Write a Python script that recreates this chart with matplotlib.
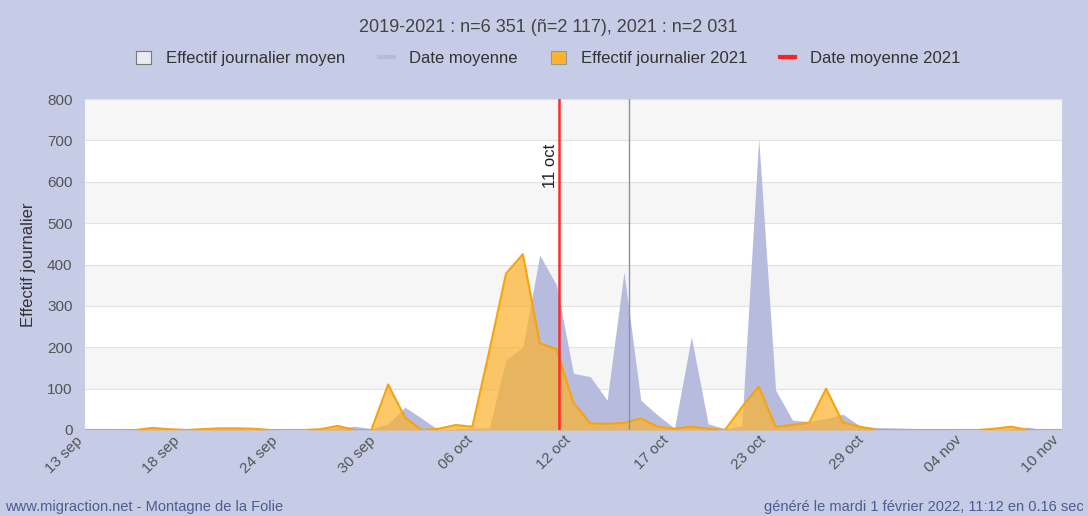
import numpy as np
import matplotlib
matplotlib.use("Agg")
import matplotlib.pyplot as plt
import matplotlib.transforms as mtransforms
from matplotlib.patches import Patch
from matplotlib.lines import Line2D

plt.rcParams['font.family'] = ['Liberation Sans', 'DejaVu Sans']

# jours depuis le 13 sep (0 .. 58 = 10 nov)
jours = np.arange(59)

effectif_moyen = [0, 0, 0, 2, 3, 3, 2, 2, 3, 3,
                  2, 2, 0, 0, 2, 5, 9, 3, 15, 55,
                  28, 0, 3, 5, 5, 170, 200, 423, 350, 137,
                  129, 72, 382, 72, 36, 4, 225, 15, 3, 10,
                  705, 97, 24, 20, 28, 38, 10, 6, 5, 4,
                  3, 2, 0, 0, 0, 3, 7, 0, 0]

effectif_2021 = [0, 0, 0, 0, 5, 2, 0, 2, 4, 4,
                 3, 0, 0, 0, 2, 10, 0, 0, 110, 30,
                 0, 3, 12, 8, 190, 378, 425, 210, 195, 66,
                 16, 15, 17, 28, 8, 3, 8, 3, 0, 55,
                 105, 8, 12, 18, 100, 18, 8, 0, 0, 0,
                 0, 0, 0, 0, 3, 8, 0, 0, 0]

tick_labels = ['13 sep', '18 sep', '24 sep', '30 sep', '06 oct', '12 oct',
               '17 oct', '23 oct', '29 oct', '04 nov', '10 nov']

date_moyenne = 32.3       # moyenne 2019-2021
date_moyenne_2021 = 28.15  # 11 oct

titre = "2019-2021 : n=6 351 (ñ=2 117), 2021 : n=2 031"

fond = '#c6cbe6'
gris = '#b7bcdf'
orange = '#fbb32f'

fig = plt.figure(figsize=(10.88, 5.16), dpi=100, facecolor=fond)
ax = fig.add_axes([0.0781, 0.1667, 0.8979, 0.6414])
ax.set_facecolor('white')

# bandes alternees + grille
for lo in (100, 300, 500, 700):
    ax.axhspan(lo, lo + 100, color='#f6f6f6', lw=0, zorder=0)
for y in range(100, 900, 100):
    ax.axhline(y, color='#e2e2e2', lw=0.8, zorder=0.5)

ax.fill_between(jours, effectif_moyen, color=gris, lw=0, zorder=2)
ax.fill_between(jours, effectif_2021, color=orange, alpha=0.72, lw=0, zorder=3)
ax.plot(jours, effectif_2021, color='#f7a30c', lw=1.5, zorder=4)

ax.axvline(date_moyenne, color='#8a90a8', lw=1, zorder=5)
ax.axvline(date_moyenne_2021, color='#ff2a2a', lw=1.8, zorder=6)
ax.text(date_moyenne_2021 - 0.05, 586, "11 oct", rotation=90, ha='right',
        va='bottom', fontsize=12, color='#222222', zorder=7)

ax.set_xlim(0, 58)
ax.set_ylim(0, 800)
for s in ax.spines.values():
    s.set_visible(False)

ax.set_yticks(range(0, 900, 100))
ax.tick_params(axis='y', length=0, pad=9, labelsize=11, labelcolor='#555555')
ax.set_xticks(np.linspace(0, 58, 11))
ax.set_xticklabels(tick_labels, rotation=45, ha='right', va='center',
                   rotation_mode='anchor')
ax.tick_params(axis='x', length=0, pad=6, labelsize=11, labelcolor='#555555')
decal = mtransforms.ScaledTranslation(-5 / 100, 0, fig.dpi_scale_trans)
for lab in ax.get_xticklabels():
    lab.set_transform(lab.get_transform() + decal)
ax.set_ylabel("Effectif journalier", fontsize=12, color='#333333', labelpad=8)

fig.text(0.504, 0.946, titre, ha='center', va='center', fontsize=13, color='#444444')

handles = [Patch(facecolor='#e8eaf4', edgecolor='#777777', lw=0.8),
           Line2D([0], [0], color=gris, lw=3),
           Patch(facecolor=orange, edgecolor='#999999', lw=0.8),
           Line2D([0], [0], color='#ff2020', lw=3)]
labels = ["Effectif journalier moyen", "Date moyenne",
          "Effectif journalier 2021", "Date moyenne 2021"]
fig.legend(handles, labels, loc='center', bbox_to_anchor=(0.504, 0.886), ncol=4,
           frameon=False, fontsize=12, handlelength=0.9, handleheight=0.75,
           columnspacing=2.0, handletextpad=0.9, labelcolor='#333333')

fig.text(0.005, 0.018, "www.migraction.net - Montagne de la Folie", ha='left',
         va='center', fontsize=10.5, color='#4d5d8f')
fig.text(0.996, 0.018, "généré le mardi 1 février 2022, 11:12 en 0.16 sec",
         ha='right', va='center', fontsize=10.5, color='#4d5d8f')

fig.savefig('out.png', dpi=100, facecolor=fond)
